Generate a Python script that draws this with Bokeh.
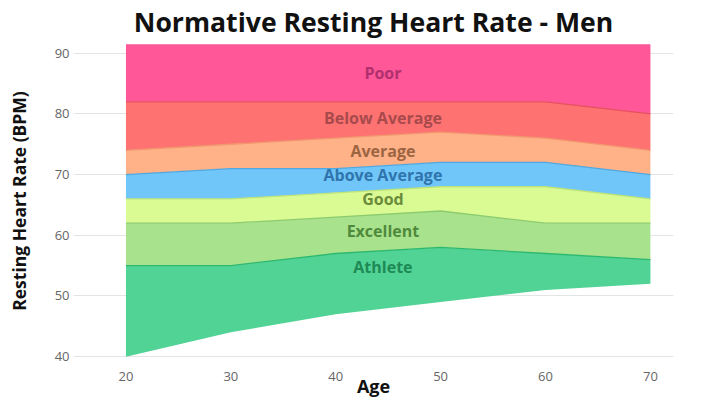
from bokeh.plotting import figure
from bokeh.models import Range1d, FixedTicker, ColumnDataSource
from bokeh.core.properties import value
from bokeh.embed import file_html
from bokeh.resources import INLINE

# ---- data ----
ages = [20, 30, 40, 50, 60, 70]
athlete_low = [40, 44, 47, 49, 51, 52]
athlete_high = [55, 55, 57, 58, 57, 56]
excellent_high = [62, 62, 63, 64, 62, 62]
good_high = [66, 66, 67, 68, 68, 66]
above_avg_high = [70, 71, 71, 72, 72, 70]
average_high = [74, 75, 76, 77, 76, 74]
below_avg_high = [82, 82, 82, 82, 82, 80]
poor_high = [91.5, 91.5, 91.5, 91.5, 91.5, 91.5]

band_names = ["Athlete", "Excellent", "Good", "Above Average", "Average", "Below Average", "Poor"]
label_ages = [44.5, 44.5, 44.5, 44.5, 44.5, 44.5, 44.5]
label_bpm = [54.8, 60.7, 65.9, 69.9, 73.9, 79.3, 86.7]

x_ticks = [20, 30, 40, 50, 60, 70]
y_ticks = [40, 50, 60, 70, 80, 90]

# ---- styles ----
fills = ["#52D396", "#A9E28C", "#DAFB94", "#70C6F8", "#FFB188", "#FF7272", "#FF5797"]
edges = ["#2DB870", "#8CCB6E", "#BFE47A", "#4FA8E0", "#F0986E", "#E5505C", "#FF5797"]
text_cols = ["#1E8A56", "#4F8A3C", "#6A8C3A", "#2F74AC", "#9C6542", "#A84A4C", "#B0306F"]

lows = [athlete_low, athlete_high, excellent_high, good_high, above_avg_high, average_high, below_avg_high]
highs = [athlete_high, excellent_high, good_high, above_avg_high, average_high, below_avg_high, poor_high]

p = figure(width=704, height=401, output_backend="svg", toolbar_location=None,
           x_range=Range1d(15, 72.2), y_range=Range1d(39.2, 92.1),
           min_border_left=73, min_border_right=31, min_border_top=38, min_border_bottom=40,
           title="Normative Resting Heart Rate - Men")

p.title.text_font = "Open Sans"
p.title.text_font_size = "26.6px"
p.title.text_font_style = "bold"
p.title.text_color = "#111111"
p.title.align = "center"
p.title.standoff = 2

for lo, hi, fc in zip(lows, highs, fills):
    p.varea(x=ages, y1=lo, y2=hi, fill_color=fc, fill_alpha=1.0)

for hi, ec in zip(highs[:-1], edges[:-1]):
    p.line(x=ages, y=hi, line_color=ec, line_width=1.3)

src = ColumnDataSource(dict(x=label_ages, y=label_bpm, t=band_names, c=text_cols))
p.text(x="x", y="y", text="t", text_color="c", source=src,
       text_font=value("Open Sans"), text_font_size="16px", text_font_style="bold",
       text_align="center", text_baseline="middle")

p.outline_line_color = None
p.background_fill_color = "white"
p.border_fill_color = "white"

p.xgrid.grid_line_color = None
p.ygrid.grid_line_color = "#e4e4e4"
p.ygrid.grid_line_width = 1

p.xaxis.ticker = FixedTicker(ticks=x_ticks)
p.yaxis.ticker = FixedTicker(ticks=y_ticks)
for ax in (p.xaxis[0], p.yaxis[0]):
    ax.axis_line_color = None
    ax.major_tick_line_color = None
    ax.minor_tick_line_color = None
    ax.major_tick_out = 0
    ax.major_tick_in = 0
    ax.minor_tick_out = 0
    ax.major_label_text_font = "Open Sans"
    ax.major_label_text_font_size = "13px"
    ax.major_label_text_color = "#666666"
    ax.axis_label_text_font = "Open Sans"
    ax.axis_label_text_font_style = "bold"
    ax.axis_label_text_color = "#111111"

p.xaxis.axis_label = "Age"
p.xaxis.axis_label_text_font_size = "18px"
p.xaxis.major_label_standoff = 10
p.xaxis.axis_label_standoff = -10
p.yaxis.axis_label = "Resting Heart Rate (BPM)"
p.yaxis.axis_label_text_font_size = "17.5px"
p.yaxis.major_label_standoff = 4
p.yaxis.axis_label_standoff = 21

open("out.html", "w").write(file_html(p, INLINE))
